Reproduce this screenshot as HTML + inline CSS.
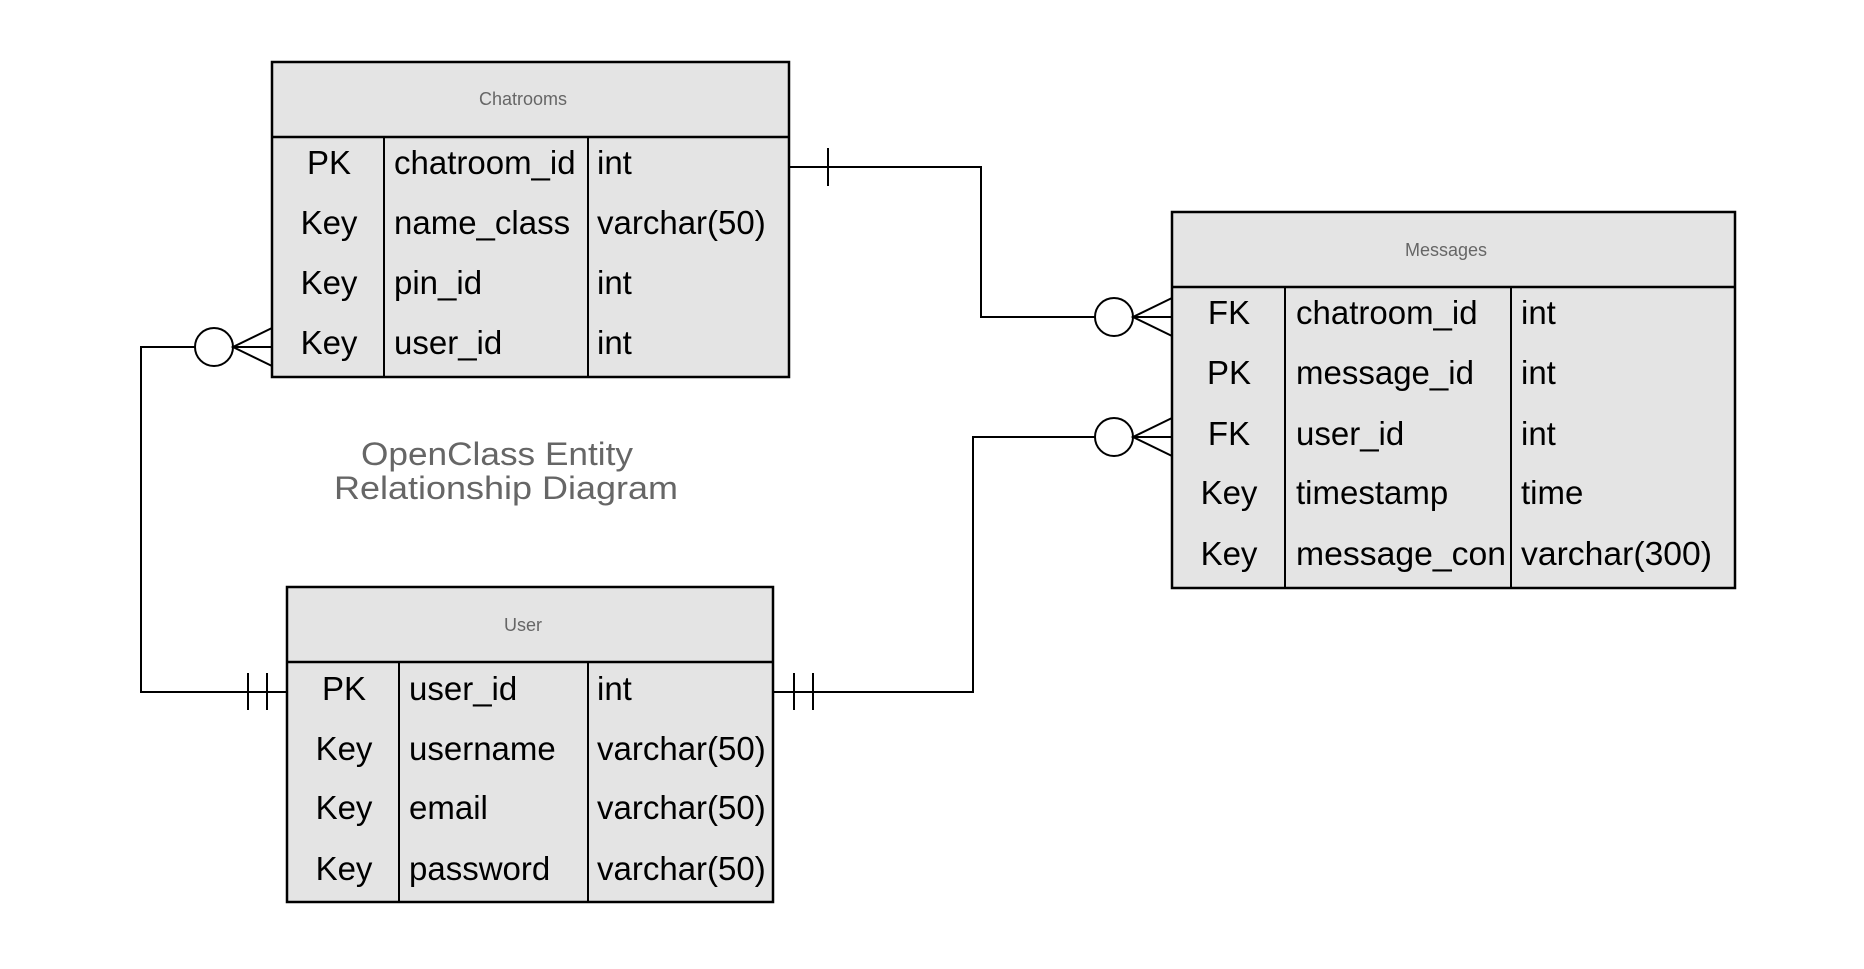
<!DOCTYPE html>
<html><head><meta charset="utf-8"><style>
html,body{margin:0;padding:0;background:#fff;}
svg{display:block;}
text{font-family:"Liberation Sans",Arial,sans-serif;}
.r{font-size:33px;fill:#000;}
.h{font-size:18px;fill:#666;}
</style></head><body>
<svg width="1864" height="969" viewBox="0 0 1864 969" xmlns="http://www.w3.org/2000/svg">
<g fill="#e4e4e4" stroke="#000" stroke-width="2.5">
<rect x="272" y="62" width="517" height="315"/>
<rect x="1172" y="212" width="563" height="376"/>
<rect x="287" y="587" width="486" height="315"/>
</g>
<g stroke="#000" stroke-width="2">
<line x1="272" y1="137" x2="789" y2="137" stroke-width="2.5"/>
<line x1="384" y1="137" x2="384" y2="377"/>
<line x1="588" y1="137" x2="588" y2="377"/>
<line x1="1172" y1="287" x2="1735" y2="287" stroke-width="2.5"/>
<line x1="1285" y1="287" x2="1285" y2="588"/>
<line x1="1511" y1="287" x2="1511" y2="588"/>
<line x1="287" y1="662" x2="773" y2="662" stroke-width="2.5"/>
<line x1="399" y1="662" x2="399" y2="902"/>
<line x1="588" y1="662" x2="588" y2="902"/>
</g>
<g class="h" text-anchor="middle">
<text x="523" y="105">Chatrooms</text>
<text x="1446" y="256">Messages</text>
<text x="523" y="631">User</text>
</g>
<g class="r">
<g text-anchor="middle">
<text x="329" y="174">PK</text><text x="329" y="234">Key</text><text x="329" y="294">Key</text><text x="329" y="354">Key</text>
<text x="1229" y="324">FK</text><text x="1229" y="384">PK</text><text x="1229" y="445">FK</text><text x="1229" y="504">Key</text><text x="1229" y="565">Key</text>
<text x="344" y="700">PK</text><text x="344" y="760">Key</text><text x="344" y="819">Key</text><text x="344" y="880">Key</text>
</g>
<text x="394" y="174">chatroom_id</text><text x="597" y="174">int</text>
<text x="394" y="234">name_class</text><text x="597" y="234">varchar(50)</text>
<text x="394" y="294">pin_id</text><text x="597" y="294">int</text>
<text x="394" y="354">user_id</text><text x="597" y="354">int</text>
<text x="1296" y="324">chatroom_id</text><text x="1521" y="324">int</text>
<text x="1296" y="384">message_id</text><text x="1521" y="384">int</text>
<text x="1296" y="445">user_id</text><text x="1521" y="445">int</text>
<text x="1296" y="504">timestamp</text><text x="1521" y="504">time</text>
<text x="1296" y="565" textLength="210" lengthAdjust="spacingAndGlyphs">message_con</text><text x="1521" y="565" textLength="191" lengthAdjust="spacingAndGlyphs">varchar(300)</text>
<text x="409" y="700">user_id</text><text x="597" y="700">int</text>
<text x="409" y="760">username</text><text x="597" y="760">varchar(50)</text>
<text x="409" y="819">email</text><text x="597" y="819">varchar(50)</text>
<text x="409" y="880">password</text><text x="597" y="880">varchar(50)</text>
</g>
<g fill="#666" font-size="32">
<text x="361" y="465" textLength="272" lengthAdjust="spacingAndGlyphs">OpenClass Entity</text>
<text x="334" y="499" textLength="344" lengthAdjust="spacingAndGlyphs">Relationship Diagram</text>
</g>
<g fill="none" stroke="#000" stroke-width="2">
<polyline points="789,167 981,167 981,317 1095,317"/>
<line x1="828" y1="148" x2="828" y2="186"/>
<circle cx="1114" cy="317" r="19" fill="#fff"/>
<polyline points="1172,298 1133,317 1172,336"/><line x1="1133" y1="317" x2="1172" y2="317"/>
<polyline points="773,692 973,692 973,437 1095,437"/>
<line x1="794" y1="673" x2="794" y2="710"/><line x1="813" y1="673" x2="813" y2="710"/>
<circle cx="1114" cy="437" r="19" fill="#fff"/>
<polyline points="1172,418 1133,437 1172,456"/><line x1="1133" y1="437" x2="1172" y2="437"/>
<polyline points="287,692 141,692 141,347 195,347"/>
<line x1="248" y1="673" x2="248" y2="710"/><line x1="267" y1="673" x2="267" y2="710"/>
<circle cx="214" cy="347" r="19" fill="#fff"/>
<polyline points="272,328 233,347 272,366"/><line x1="233" y1="347" x2="272" y2="347"/>
</g>
</svg>
</body></html>
